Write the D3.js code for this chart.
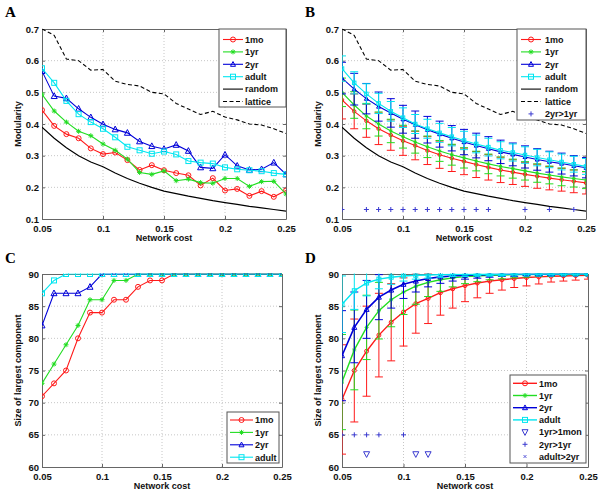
<!DOCTYPE html>
<html><head><meta charset="utf-8">
<script src="https://cdn.jsdelivr.net/npm/d3@7"></script>
<style>body{margin:0;background:#fff} svg{display:block} text{font-family:"Liberation Sans",Arial,sans-serif}</style>
</head><body><svg id="c" width="600" height="493"></svg>
<script>
// ---------- data ----------
const costs = [0.05,0.06,0.07,0.08,0.09,0.10,0.11,0.12,0.13,0.14,0.15,0.16,0.17,0.18,0.19,0.20,0.21,0.22,0.23,0.24,0.25];
const xTickVals = [0.05,0.1,0.15,0.2,0.25];
const xTickLabels = ["0.05","0.1","0.15","0.2","0.25"];
const modTickVals = [0.1,0.2,0.3,0.4,0.5,0.6,0.7];
const modTickLabels = ["0.1","0.2","0.3","0.4","0.5","0.6","0.7"];
const lccTickVals = [60,65,70,75,80,85,90];
const lccTickLabels = ["60","65","70","75","80","85","90"];

// Panel A (modularity, single networks)
const modA1mo   = [0.444,0.394,0.368,0.355,0.323,0.305,0.310,0.286,0.255,0.270,0.254,0.245,0.238,0.206,0.229,0.190,0.195,0.173,0.188,0.170,0.190];
const modA1yr   = [0.494,0.441,0.406,0.377,0.363,0.337,0.317,0.289,0.247,0.241,0.252,0.221,0.226,0.215,0.213,0.228,0.228,0.203,0.218,0.219,0.179];
const modA2yr   = [0.567,0.488,0.481,0.448,0.421,0.399,0.383,0.372,0.345,0.330,0.321,0.334,0.315,0.263,0.260,0.303,0.268,0.255,0.257,0.278,0.241];
const modAadult = [0.576,0.530,0.473,0.431,0.406,0.385,0.358,0.328,0.317,0.306,0.313,0.304,0.283,0.278,0.275,0.263,0.257,0.254,0.251,0.245,0.241];
const modRandom = [0.390,0.355,0.325,0.300,0.280,0.265,0.245,0.228,0.213,0.200,0.188,0.180,0.172,0.165,0.158,0.152,0.146,0.140,0.135,0.130,0.125];
const modLattice= [0.700,0.680,0.605,0.600,0.570,0.572,0.535,0.525,0.520,0.500,0.495,0.465,0.447,0.430,0.440,0.422,0.413,0.400,0.397,0.385,0.370];

// Panel B (modularity, group mean ± sd)
const modMean1mo   = [0.476,0.440,0.410,0.385,0.365,0.347,0.332,0.316,0.303,0.292,0.282,0.272,0.263,0.255,0.248,0.241,0.235,0.229,0.224,0.219,0.214];
const modSd1mo     = [0.060,0.055,0.052,0.050,0.048,0.046,0.045,0.044,0.043,0.042,0.042,0.041,0.040,0.040,0.039,0.038,0.038,0.037,0.036,0.036,0.035];
const modMean1yr   = [0.500,0.460,0.425,0.400,0.378,0.360,0.343,0.328,0.315,0.303,0.293,0.283,0.274,0.266,0.259,0.252,0.245,0.239,0.233,0.228,0.223];
const modSd1yr     = [0.045,0.042,0.040,0.038,0.037,0.036,0.035,0.034,0.033,0.033,0.032,0.031,0.031,0.030,0.030,0.029,0.029,0.028,0.028,0.027,0.027];
const modMean2yr   = [0.545,0.510,0.480,0.455,0.435,0.415,0.398,0.382,0.368,0.355,0.343,0.332,0.322,0.312,0.304,0.296,0.288,0.281,0.275,0.268,0.262];
const modSd2yr     = [0.050,0.050,0.048,0.046,0.045,0.044,0.043,0.042,0.041,0.040,0.040,0.039,0.038,0.037,0.036,0.035,0.034,0.033,0.033,0.032,0.032];
const modMeanAdult = [0.575,0.530,0.495,0.465,0.440,0.420,0.400,0.385,0.372,0.360,0.348,0.337,0.327,0.317,0.310,0.302,0.294,0.287,0.280,0.273,0.266];
const modSdAdult   = [0.040,0.035,0.032,0.032,0.031,0.031,0.030,0.030,0.030,0.029,0.029,0.028,0.028,0.027,0.027,0.026,0.026,0.025,0.025,0.025,0.025];
const modSig2yr1yrX = [0.05,0.07,0.08,0.09,0.10,0.11,0.12,0.13,0.14,0.15,0.16,0.17,0.20,0.22,0.24];
const modSigLevel = 0.13;

// Panel C (largest component, single networks)
const lcc1mo   = [71,73,75,80,84,84,86,86,88,89,89,90,90,90,90,90,90,90,90,90,90];
const lcc1yr   = [73,76,79,82,86,86,89,89,90,90,90,90,90,90,90,90,90,90,90,90,90];
const lcc2yr   = [82,87,87,87,88,90,90,90,90,90,90,90,90,90,90,90,90,90,90,90,90];
const lccAdult = [87,89,90,90,90,90,90,90,90,90,90,90,90,90,90,90,90,90,90,90,90];

// Panel D (largest component, group mean ± sd)
const lccMean1mo   = [70.5,75.0,78.0,80.5,82.5,84.1,85.4,86.2,87.1,87.7,88.2,88.6,88.9,89.1,89.3,89.45,89.55,89.65,89.7,89.75,89.8];
const lccSd1mo     = [8.5,8.0,7.0,6.5,6.0,5.3,4.6,3.9,3.5,3.0,2.5,2.3,1.9,1.6,1.4,1.3,1.1,0.9,0.8,0.7,0.6];
const lccMean1yr   = [73.2,78.2,81.7,84.3,86.0,87.2,88.1,88.7,89.1,89.4,89.6,89.7,89.8,89.85,89.9,89.92,89.94,89.95,89.96,89.97,89.98];
const lccSd1yr     = [7.4,6.2,5.0,4.4,4.2,3.5,2.8,2.2,1.8,1.4,1.1,0.9,0.7,0.6,0.5,0.4,0.3,0.3,0.2,0.2,0.2];
const lccMean2yr   = [77.3,81.7,84.5,86.4,87.5,88.4,88.9,89.3,89.55,89.7,89.8,89.85,89.9,89.95,89.95,89.97,89.98,89.98,89.99,89.99,90];
const lccSd2yr     = [7.0,5.5,4.5,3.5,2.8,2.2,1.7,1.3,1.0,0.8,0.6,0.5,0.4,0.3,0.3,0.2,0.2,0.2,0.1,0.1,0.1];
const lccMeanAdult = [85.3,87.4,88.6,89.2,89.5,89.7,89.8,89.85,89.9,89.92,89.94,89.95,89.96,89.97,89.98,89.98,89.99,89.99,90,90,90];
const lccSdAdult   = [4.4,2.9,2.0,1.5,1.1,0.8,0.6,0.5,0.4,0.3,0.3,0.2,0.2,0.2,0.1,0.1,0.1,0.1,0.1,0.1,0.1];
const lccSig1yr1monX = [0.07,0.11,0.12];
const lccSig1yr1monLevel = 62;
const lccSig2yr1yrX = [0.05,0.06,0.07,0.08,0.10];
const lccSig2yr1yrLevel = 65;

// ---------- style ----------
const C = {red:"#ff1a1a", green:"#22dd22", blue:"#0000d8", cyan:"#00e6f0", black:"#000", sig:"#3a3ad0"};
const svg = d3.select("#c");

function marker(g, type, cx, cy, color, s) {
  const h = s/2;
  if (type==="circle") g.append("circle").attr("cx",cx).attr("cy",cy).attr("r",h).attr("fill","none").attr("stroke",color).attr("stroke-width",1);
  else if (type==="square") g.append("rect").attr("x",cx-h).attr("y",cy-h).attr("width",s).attr("height",s).attr("fill","none").attr("stroke",color).attr("stroke-width",1);
  else if (type==="tri") g.append("path").attr("d",`M${cx},${cy-h*1.1}L${cx+h},${cy+h*0.8}L${cx-h},${cy+h*0.8}Z`).attr("fill","none").attr("stroke",color).attr("stroke-width",1);
  else if (type==="tridown") g.append("path").attr("d",`M${cx},${cy+h*1.1}L${cx+h},${cy-h*0.8}L${cx-h},${cy-h*0.8}Z`).attr("fill","none").attr("stroke",color).attr("stroke-width",1);
  else if (type==="star") g.append("path").attr("d",`M${cx-h},${cy}H${cx+h}M${cx},${cy-h}V${cy+h}M${cx-h*0.7},${cy-h*0.7}L${cx+h*0.7},${cy+h*0.7}M${cx-h*0.7},${cy+h*0.7}L${cx+h*0.7},${cy-h*0.7}`).attr("stroke",color).attr("stroke-width",1);
  else if (type==="plus") g.append("path").attr("d",`M${cx-h},${cy}H${cx+h}M${cx},${cy-h}V${cy+h}`).attr("stroke",color).attr("stroke-width",1);
  else if (type==="x") g.append("path").attr("d",`M${cx-h},${cy-h}L${cx+h},${cy+h}M${cx-h},${cy+h}L${cx+h},${cy-h}`).attr("stroke",color).attr("stroke-width",0.8);
}

function makePanel(o) {
  const x = d3.scaleLinear().domain([0.05,0.25]).range([o.left,o.right]);
  const y = d3.scaleLinear().domain(o.yDomain).range([o.bottom,o.top]);
  const g = svg.append("g");
  svg.append("clipPath").attr("id","clip"+o.name).append("rect")
     .attr("x",o.left).attr("y",o.top-0.5).attr("width",o.right-o.left).attr("height",o.bottom-o.top+1);
  // grid
  const grid = g.append("g").attr("stroke","#b8b8b8").attr("stroke-width",0.8).attr("stroke-dasharray","1,2");
  xTickVals.slice(1,-1).forEach(v=>grid.append("line").attr("x1",x(v)).attr("x2",x(v)).attr("y1",o.top).attr("y2",o.bottom));
  o.yTicks.slice(1,-1).forEach(v=>grid.append("line").attr("y1",y(v)).attr("y2",y(v)).attr("x1",o.left).attr("x2",o.right));
  // axes
  const fmtX = d=>xTickLabels[xTickVals.indexOf(d)];
  const fmtY = d=>o.yLabels[o.yTicks.indexOf(d)];
  const ax = [
    g.append("g").attr("transform",`translate(0,${o.bottom})`).call(d3.axisBottom(x).tickValues(xTickVals).tickFormat(fmtX).tickSize(-3).tickSizeOuter(0).tickPadding(6)),
    g.append("g").attr("transform",`translate(${o.left},0)`).call(d3.axisLeft(y).tickValues(o.yTicks).tickFormat(fmtY).tickSize(-3).tickSizeOuter(0).tickPadding(3)),
    g.append("g").attr("transform",`translate(0,${o.top})`).call(d3.axisTop(x).tickValues(xTickVals).tickFormat("").tickSize(-3).tickSizeOuter(0)),
    g.append("g").attr("transform",`translate(${o.right},0)`).call(d3.axisRight(y).tickValues(o.yTicks).tickFormat("").tickSize(-3).tickSizeOuter(0))
  ];
  ax.forEach(a=>{a.selectAll("path,line").attr("stroke","#666");
    a.selectAll("text").attr("fill","#111").style("font-size","9.5px").style("font-weight","bold").style("font-family","'Liberation Sans',Arial,sans-serif");});
  // labels
  g.append("text").attr("x",(o.left+o.right)/2).attr("y",o.bottom+22).attr("text-anchor","middle")
    .style("font-size","9px").style("font-weight","bold").attr("fill","#111").text("Network cost");
  g.append("text").attr("transform",`translate(${o.left-21},${(o.top+o.bottom)/2}) rotate(-90)`).attr("text-anchor","middle")
    .style("font-size","9px").style("font-weight","bold").attr("fill","#111").text(o.yTitle);
  g.append("text").attr("x",o.labelX).attr("y",o.labelY).style("font-family","'Liberation Serif','Times New Roman',serif")
    .style("font-size","15px").style("font-weight","bold").text(o.name);
  const plot = svg.append("g").attr("clip-path",`url(#clip${o.name})`);
  return {x,y,g,plot};
}

function lineSeries(P, vals, color, opts={}) {
  const line = d3.line().x((d,i)=>P.x(costs[i])).y(d=>P.y(d));
  P.plot.append("path").datum(vals).attr("d",line).attr("fill","none").attr("stroke",color)
    .attr("stroke-width",opts.width||1.1).attr("stroke-dasharray",opts.dash||null);
  if (opts.marker) vals.forEach((v,i)=>marker(P.plot,opts.marker,P.x(costs[i]),P.y(v),color,opts.ms||5));
}
function errorBars(P, mean, sd, color, capW) {
  const g = P.plot.append("g").attr("stroke",color).attr("stroke-width",1);
  mean.forEach((m,i)=>{
    const cx = P.x(costs[i]), y1 = P.y(m-sd[i]), y2 = P.y(m+sd[i]);
    g.append("line").attr("x1",cx).attr("x2",cx).attr("y1",y1).attr("y2",y2);
    g.append("line").attr("x1",cx-capW).attr("x2",cx+capW).attr("y1",y1).attr("y2",y1);
    g.append("line").attr("x1",cx-capW).attr("x2",cx+capW).attr("y1",y2).attr("y2",y2);
  });
}
function legend(box, entries, lineX0, lineX1, textX, y0, dy) {
  svg.append("rect").attr("x",box[0]).attr("y",box[1]).attr("width",box[2]-box[0]).attr("height",box[3]-box[1])
    .attr("fill","#fff").attr("stroke","#555").attr("stroke-width",1);
  const g = svg.append("g");
  entries.forEach((e,i)=>{
    const yy = y0 + i*dy;
    if (e.line) g.append("line").attr("x1",lineX0).attr("x2",lineX1).attr("y1",yy).attr("y2",yy)
      .attr("stroke",e.color).attr("stroke-width",e.width||1.1).attr("stroke-dasharray",e.dash||null);
    if (e.marker) marker(g,e.marker,(lineX0+lineX1)/2,yy,e.color,e.ms||5);
    g.append("text").attr("x",textX).attr("y",yy+3.3).style("font-size","9px").style("font-weight","bold").attr("fill","#111").text(e.label);
  });
}

// ---------- Panel A ----------
const A = makePanel({name:"A",left:42,right:286,top:29,bottom:219,yDomain:[0.1,0.7],yTicks:modTickVals,yLabels:modTickLabels,yTitle:"Modularity",labelX:5,labelY:17});
lineSeries(A, modLattice, C.black, {dash:"4,2.5"});
lineSeries(A, modRandom, C.black, {width:1.2});
lineSeries(A, modA1mo, C.red, {marker:"circle",ms:5});
lineSeries(A, modA1yr, C.green, {marker:"star",ms:5});
lineSeries(A, modA2yr, C.blue, {marker:"tri",ms:6});
lineSeries(A, modAadult, C.cyan, {marker:"square",ms:5});
legend([219,29,286,107],[
  {label:"1mo",color:C.red,line:true,marker:"circle"},
  {label:"1yr",color:C.green,line:true,marker:"star"},
  {label:"2yr",color:C.blue,line:true,marker:"tri"},
  {label:"adult",color:C.cyan,line:true,marker:"square"},
  {label:"random",color:C.black,line:true},
  {label:"lattice",color:C.black,line:true,dash:"4,2.5"}
],223,243,245,39.5,12.4);

// ---------- Panel B ----------
const B = makePanel({name:"B",left:342,right:586,top:29,bottom:219,yDomain:[0.1,0.7],yTicks:modTickVals,yLabels:modTickLabels,yTitle:"Modularity",labelX:305,labelY:17});
lineSeries(B, modLattice, C.black, {dash:"4,2.5"});
lineSeries(B, modRandom, C.black, {width:1.2});
errorBars(B, modMean1mo, modSd1mo, C.red, 4);
lineSeries(B, modMean1mo, C.red, {marker:"circle",ms:3.5});
errorBars(B, modMean1yr, modSd1yr, C.green, 4);
lineSeries(B, modMean1yr, C.green, {marker:"star",ms:3.5});
errorBars(B, modMean2yr, modSd2yr, C.blue, 4);
lineSeries(B, modMean2yr, C.blue, {marker:"tri",ms:4});
errorBars(B, modMeanAdult, modSdAdult, C.cyan, 4);
lineSeries(B, modMeanAdult, C.cyan, {marker:"square",ms:3.5});
modSig2yr1yrX.forEach(v=>marker(B.plot,"plus",B.x(v),B.y(modSigLevel),C.sig,5));
legend([517,29,586,120],[
  {label:"1mo",color:C.red,line:true,marker:"circle"},
  {label:"1yr",color:C.green,line:true,marker:"star"},
  {label:"2yr",color:C.blue,line:true,marker:"tri"},
  {label:"adult",color:C.cyan,line:true,marker:"square"},
  {label:"random",color:C.black,line:true},
  {label:"lattice",color:C.black,line:true,dash:"4,2.5"},
  {label:"2yr>1yr",color:C.sig,marker:"plus"}
],521,541,545,39.5,12.4);

// ---------- Panel C ----------
const Cp = makePanel({name:"C",left:42,right:282,top:274,bottom:467,yDomain:[60,90],yTicks:lccTickVals,yLabels:lccTickLabels,yTitle:"Size of largest component",labelX:5,labelY:263});
lineSeries(Cp, lcc1mo, C.red, {marker:"circle",ms:5});
lineSeries(Cp, lcc1yr, C.green, {marker:"star",ms:5});
lineSeries(Cp, lcc2yr, C.blue, {marker:"tri",ms:6});
lineSeries(Cp, lccAdult, C.cyan, {marker:"square",ms:5});
legend([227,412,279,463],[
  {label:"1mo",color:C.red,line:true,marker:"circle"},
  {label:"1yr",color:C.green,line:true,marker:"star"},
  {label:"2yr",color:C.blue,line:true,marker:"tri"},
  {label:"adult",color:C.cyan,line:true,marker:"square"}
],230,253,255,420,12.4);

// ---------- Panel D ----------
const D = makePanel({name:"D",left:342,right:588,top:274,bottom:467,yDomain:[60,90],yTicks:lccTickVals,yLabels:lccTickLabels,yTitle:"Size of largest component",labelX:305,labelY:263});
errorBars(D, lccMean1mo, lccSd1mo, C.red, 4);
lineSeries(D, lccMean1mo, C.red, {marker:"circle",ms:4,width:1.4});
errorBars(D, lccMean1yr, lccSd1yr, C.green, 4);
lineSeries(D, lccMean1yr, C.green, {marker:"star",ms:4,width:1.4});
errorBars(D, lccMean2yr, lccSd2yr, C.blue, 4);
lineSeries(D, lccMean2yr, C.blue, {marker:"tri",ms:5,width:1.6});
errorBars(D, lccMeanAdult, lccSdAdult, C.cyan, 4);
lineSeries(D, lccMeanAdult, C.cyan, {marker:"square",ms:4,width:1.4});
lccSig1yr1monX.forEach(v=>marker(D.plot,"tridown",D.x(v),D.y(lccSig1yr1monLevel),C.sig,6));
lccSig2yr1yrX.forEach(v=>marker(D.plot,"plus",D.x(v),D.y(lccSig2yr1yrLevel),C.sig,5));
legend([510,375,586,463],[
  {label:"1mo",color:C.red,line:true,marker:"circle",width:1.4},
  {label:"1yr",color:C.green,line:true,marker:"star",width:1.4},
  {label:"2yr",color:C.blue,line:true,marker:"tri",width:1.4},
  {label:"adult",color:C.cyan,line:true,marker:"square",width:1.4},
  {label:"1yr>1mon",color:C.sig,marker:"tridown",ms:6},
  {label:"2yr>1yr",color:C.sig,marker:"plus"},
  {label:"adult>2yr",color:C.sig,marker:"x",ms:3}
],513,537,539,383.3,12.2);
</script></body></html>
